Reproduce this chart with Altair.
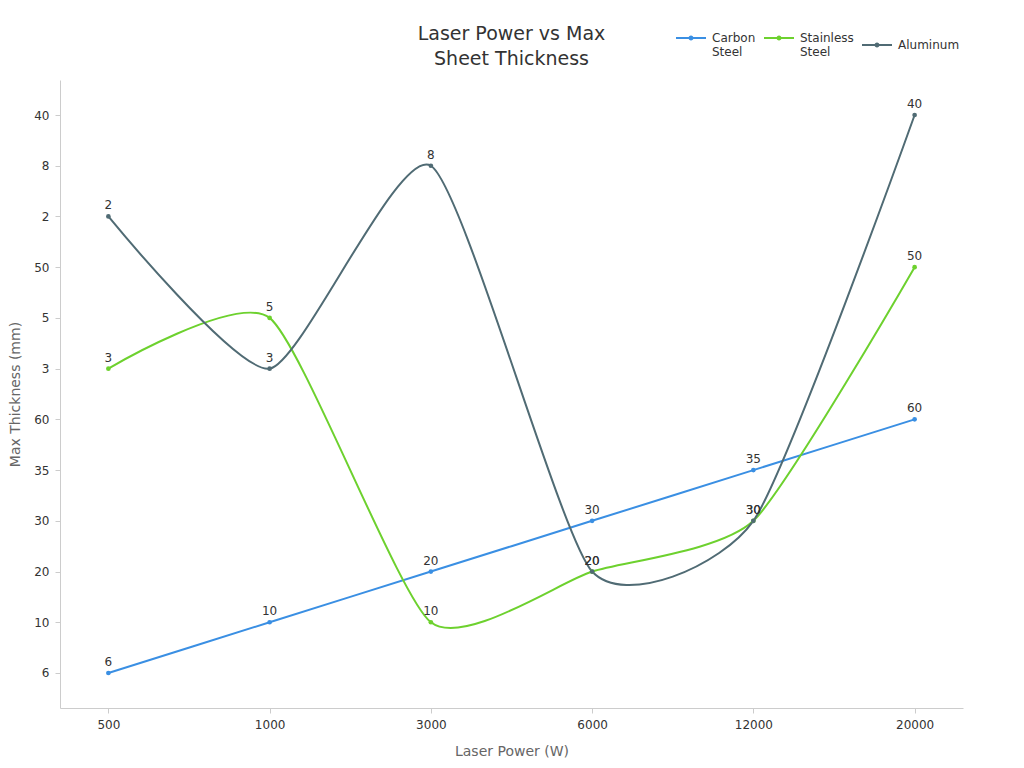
import altair as alt
import pandas as pd

powers = ["500", "1000", "3000", "6000", "12000", "20000"]
carbon_steel = [6, 10, 20, 30, 35, 60]
stainless_steel = [3, 5, 10, 20, 30, 50]
aluminum = [2, 3, 8, 20, 30, 40]

series_names = ["Carbon Steel", "Stainless Steel", "Aluminum"]
series_colors = ["#3a8fe3", "#6dd12e", "#506b74"]

# the value axis is a category axis, ordered by first appearance (bottom -> top)
y_order = []
for vals in (carbon_steel, stainless_steel, aluminum):
    for v in vals:
        if str(v) not in y_order:
            y_order.append(str(v))
y_sort = list(reversed(y_order))

rows = []
for name, vals in zip(series_names, (carbon_steel, stainless_steel, aluminum)):
    for i, (p, v) in enumerate(zip(powers, vals)):
        rows.append({"power": p, "thickness": str(v), "series": name, "order": i})
df = pd.DataFrame(rows)

FONT = "DejaVu Sans"

x_enc = alt.X("power:N", sort=powers, title="Laser Power (W)",
              scale=alt.Scale(type="point", padding=0.3),
              axis=alt.Axis(labelAngle=0, titlePadding=14))
y_enc = alt.Y("thickness:N", sort=y_sort, title="Max Thickness (mm)",
              scale=alt.Scale(type="point", padding=0.69),
              axis=alt.Axis(titlePadding=11))
color_enc = alt.Color("series:N", sort=series_names,
                      scale=alt.Scale(domain=series_names, range=series_colors),
                      legend=alt.Legend(
                          title=None, orient="none", direction="horizontal",
                          legendX=615, legendY=-58,
                          symbolType="M-1,0L1,0M-0.1,0A0.1,0.1 0 1,1 0.1,0A0.1,0.1 0 1,1 -0.1,0",
                          symbolSize=900, symbolStrokeWidth=2,
                          labelExpr="split(datum.label, ' ')",
                          labelFontSize=12, labelColor="#333333", labelFont=FONT,
                          columnPadding=4, labelOffset=5))

base = alt.Chart(df)

lines = base.mark_line(interpolate="cardinal", tension=0.4, strokeWidth=2).encode(
    x=x_enc, y=y_enc, color=color_enc, order="order:Q")

points = base.mark_circle(size=22, opacity=1).encode(
    x=x_enc, y=y_enc, color=alt.Color("series:N", sort=series_names,
                                      scale=alt.Scale(domain=series_names, range=series_colors),
                                      legend=None))

labels = base.mark_text(dy=-11, fontSize=12, color="#333333", font=FONT).encode(
    x=x_enc, y=y_enc, text="thickness:N")

chart = alt.layer(lines, points, labels).properties(
    width=903, height=628,
    title=alt.Title(["Laser Power vs Max", "Sheet Thickness"], fontSize=19,
                    fontWeight="normal", color="#333333", font=FONT,
                    anchor="middle", offset=-47, lineHeight=25),
    padding={"left": 0, "top": 14, "right": 5, "bottom": 5},
).configure_view(stroke=None).configure_axis(
    grid=False, domainColor="#cccccc", tickColor="#cccccc", tickSize=5,
    labelFontSize=12, labelColor="#333333", labelFont=FONT,
    titleFontSize=14, titleColor="#666666", titleFont=FONT, titleFontWeight="normal",
    labelPadding=6,
)

chart.save("out.html", embed_options={"renderer": "svg", "actions": False})
